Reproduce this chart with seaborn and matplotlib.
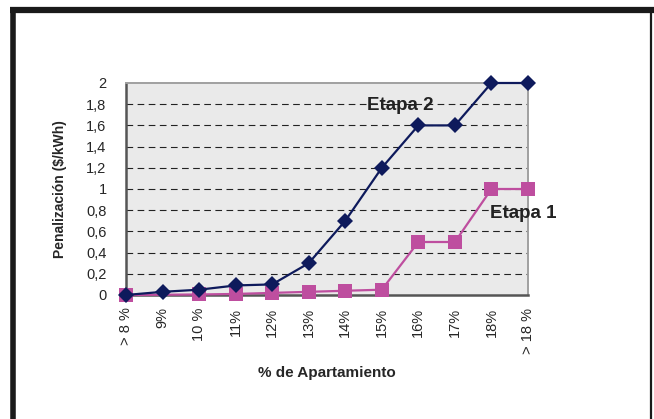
import numpy as np
import pandas as pd
import seaborn as sns
import matplotlib.pyplot as plt
from matplotlib.lines import Line2D

categories = ['> 8 %', '9%', '10 %', '11%', '12%', '13%', '14%', '15%',
              '16%', '17%', '18%', '> 18 %']
etapa2 = [0.0, 0.03, 0.05, 0.09, 0.10, 0.30, 0.70, 1.20, 1.60, 1.60, 2.0, 2.0]
etapa1 = [0.0, np.nan, 0.005, 0.01, 0.02, 0.03, 0.04, 0.05, 0.50, 0.50, 1.0, 1.0]
y_ticks = [0, 0.2, 0.4, 0.6, 0.8, 1, 1.2, 1.4, 1.6, 1.8, 2]
y_labels = ['0', '0,2', '0,4', '0,6', '0,8', '1', '1,2', '1,4', '1,6', '1,8', '2']

sns.set_style('white')
plt.rcParams['font.family'] = ['Liberation Sans', 'DejaVu Sans']

df = pd.DataFrame({'pos': np.arange(len(categories)),
                   'Etapa 2': etapa2, 'Etapa 1': etapa1})

fig = plt.figure(figsize=(6.54, 4.19), dpi=100)
ax = fig.add_axes([126/654, 1 - 295/419, (528 - 126)/654, (295 - 83)/419])
ax.set_facecolor('#EAEAEA')

navy = '#0E1A5C'
pink = '#BE4E9F'

d1 = df.dropna(subset=['Etapa 1'])
sns.lineplot(data=d1, x='pos', y='Etapa 1', ax=ax, color=pink, lw=1.6,
             marker='s', markersize=10, markeredgewidth=0, clip_on=False, zorder=3)
sns.lineplot(data=df, x='pos', y='Etapa 2', ax=ax, color=navy, lw=1.6,
             marker='D', markersize=8.5, markeredgewidth=0, clip_on=False, zorder=4)

ax.set_xlim(0, len(categories) - 1)
ax.set_ylim(0, 2)
ax.set_yticks(y_ticks)
ax.set_yticklabels(y_labels, fontsize=10.5)
ax.set_xticks(df['pos'])
ax.set_xticklabels(categories, rotation=90, fontsize=10.5)

for y in y_ticks[1:-1]:
    ax.axhline(y, color='#222222', lw=0.8, ls=(0, (6, 4)), zorder=1)

ax.tick_params(axis='x', direction='out', length=5, width=1, color='#333333', pad=4)
ax.tick_params(axis='y', direction='out', length=6, width=1, color='#333333', pad=8)

for side in ['left', 'bottom']:
    ax.spines[side].set_color('#555555')
    ax.spines[side].set_linewidth(1.8)
for side in ['top', 'right']:
    ax.spines[side].set_color('#A0A0A0')
    ax.spines[side].set_linewidth(1.4)

ax.set_xlabel('% de Apartamiento', fontsize=11, fontweight='bold', labelpad=9)
ax.set_ylabel('Penalización ($/kWh)', fontsize=10, fontweight='bold', labelpad=14)

ax.text(6.6, 1.79, 'Etapa 2', fontsize=13.5, fontweight='bold', color='#222222',
        va='center', ha='left')
ax.text(9.96, 0.77, 'Etapa 1', fontsize=13.5, fontweight='bold', color='#222222',
        va='center', ha='left')

# black frame round the chart
frame = dict(color='#1A1A1A', transform=fig.transFigure, solid_capstyle='butt')
fig.add_artist(Line2D([10/654, 1], [1 - 10/419, 1 - 10/419], lw=4.5, **frame))
fig.add_artist(Line2D([12.5/654, 12.5/654], [0, 1 - 7/419], lw=4, **frame))
fig.add_artist(Line2D([651/654, 651/654], [0, 1 - 7/419], lw=1.6, **frame))

fig.savefig('out.png', dpi=100, facecolor='white')
